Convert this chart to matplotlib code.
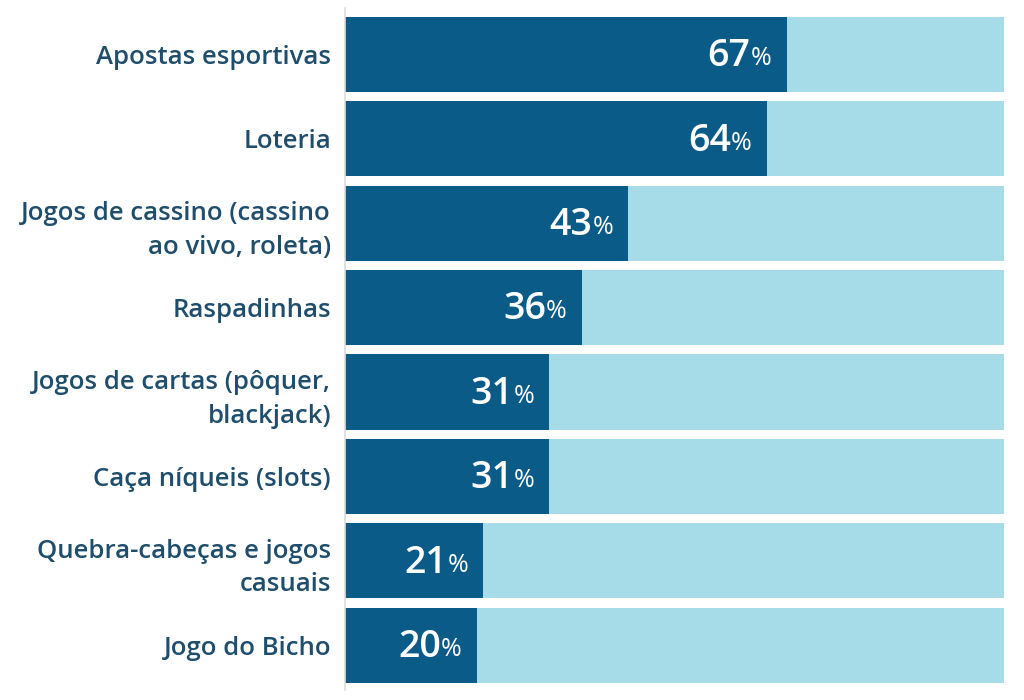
import matplotlib
matplotlib.use('Agg')
import matplotlib.pyplot as plt
from matplotlib.transforms import offset_copy

categories = [
    "Apostas esportivas",
    "Loteria",
    "Jogos de cassino (cassino\nao vivo, roleta)",
    "Raspadinhas",
    "Jogos de cartas (pôquer,\nblackjack)",
    "Caça níqueis (slots)",
    "Quebra-cabeças e jogos\ncasuais",
    "Jogo do Bicho",
]
values = [67, 64, 43, 36, 31, 31, 21, 20]
total = [100] * len(values)

dark = "#0b5b88"
light = "#a6dbe8"
label_color = "#1e4e6c"

plt.rcParams['font.family'] = ['Open Sans', 'DejaVu Sans']

fig = plt.figure(figsize=(10.24, 7), dpi=100)
ax = fig.add_axes([345 / 1024, 10 / 700, 659 / 1024, 682 / 700])

pos = list(range(len(categories)))
ax.barh(pos, total, height=0.89, color=light, zorder=1)
ax.barh(pos, values, height=0.89, color=dark, zorder=2)

ax.set_xlim(0, 100)
ax.set_ylim(7.53, -0.55)
ax.set_yticks(pos)
ax.set_yticklabels(categories, fontsize=18.5, fontweight='semibold',
                   color=label_color, linespacing=1.45)
ax.tick_params(axis='y', length=0, pad=10)
ax.set_xticks([])

for s in ['top', 'right', 'bottom']:
    ax.spines[s].set_visible(False)
ax.spines['left'].set_color('#dcdcdc')
ax.spines['left'].set_linewidth(1.2)

# value labels: big number + small percent sign
fig.canvas.draw()
renderer = fig.canvas.get_renderer()
for i, v in enumerate(values):
    tr = offset_copy(ax.transData, fig=fig, x=-11, y=0, units='points')
    pct = ax.text(v, i + 0.05, "%", transform=tr, ha='right', va='center',
                  fontsize=18, color='white', zorder=3)
    w = pct.get_window_extent(renderer=renderer).width * 72 / fig.dpi
    tr2 = offset_copy(ax.transData, fig=fig, x=-11 - w, y=0, units='points')
    ax.text(v, i + 0.02, str(v), transform=tr2, ha='right', va='center',
            fontsize=27, fontweight='semibold', color='white', zorder=3)

plt.savefig("out.png", dpi=100)
